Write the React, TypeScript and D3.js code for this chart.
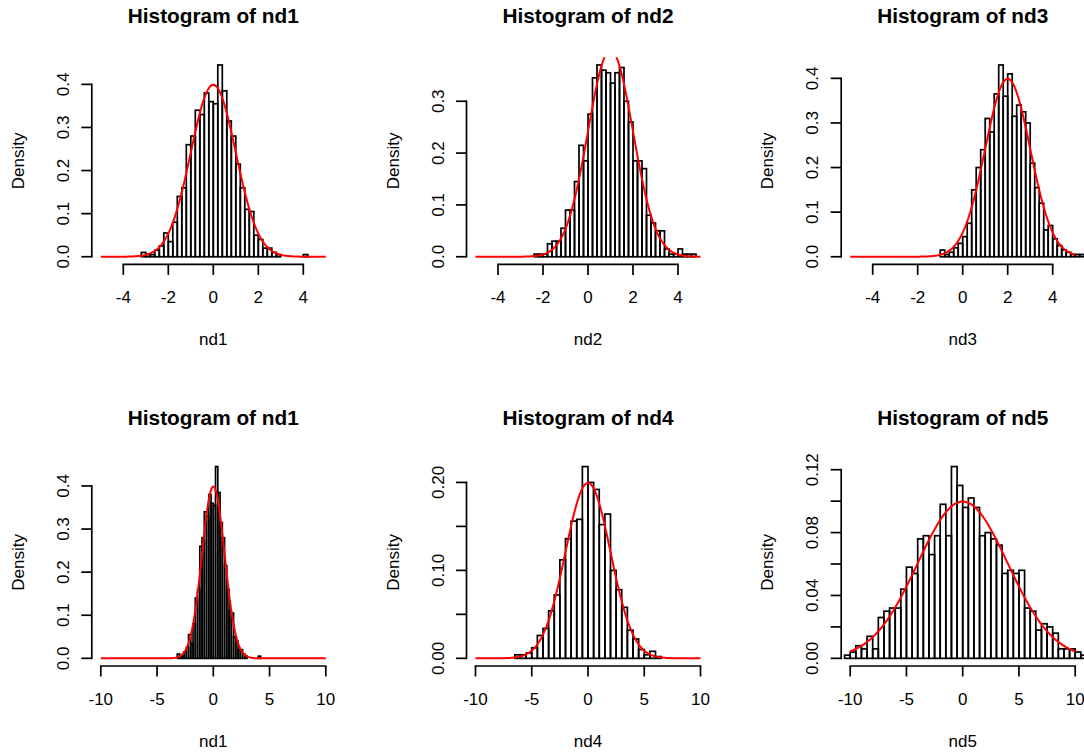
import React from 'react';
import * as d3 from 'd3';

const W = 1084;
const H = 754;

// Histogram densities (bins of equal width, starting at the given left edge)
const nd1Start = -3.2;
const nd1Step = 0.2;
const nd1Density = [
  0.01, 0.005, 0.005, 0.015, 0.025, 0.055, 0.035, 0.08, 0.14, 0.16,
  0.26, 0.28, 0.34, 0.33, 0.38, 0.36, 0.355, 0.445, 0.385, 0.315,
  0.28, 0.215, 0.16, 0.11, 0.105, 0.05, 0.04, 0.02, 0.02, 0.01,
  0.005, 0, 0, 0, 0, 0, 0.005,
];

const nd2Start = -2.4;
const nd2Step = 0.2;
const nd2Density = [
  0.005, 0.005, 0.005, 0.025, 0.03, 0.03, 0.055, 0.09, 0.09, 0.145,
  0.215, 0.185, 0.275, 0.345, 0.37, 0.36, 0.355, 0.335, 0.355, 0.365,
  0.3, 0.26, 0.185, 0.185, 0.17, 0.08, 0.065, 0.05, 0.05, 0.015,
  0.005, 0.005, 0.015, 0.005, 0.005, 0.005,
];

const nd3Start = -1.0;
const nd3Step = 0.2;
const nd3Density = [
  0.015, 0.005, 0.01, 0.02, 0.03, 0.045, 0.075, 0.15, 0.2, 0.24,
  0.31, 0.28, 0.365, 0.43, 0.36, 0.41, 0.315, 0.34, 0.325, 0.3,
  0.21, 0.155, 0.12, 0.06, 0.07, 0.04, 0.025, 0.015, 0.01, 0.005,
  0.005, 0.005,
];

const nd4Start = -6.5;
const nd4Step = 0.5;
const nd4Density = [
  0.004, 0.004, 0.006, 0.012, 0.026, 0.034, 0.054, 0.072, 0.112, 0.136,
  0.156, 0.158, 0.218, 0.2, 0.192, 0.152, 0.164, 0.1, 0.078, 0.058,
  0.032, 0.022, 0.01, 0.004, 0.008, 0.002,
];

const nd5Start = -10.5;
const nd5Step = 0.5;
const nd5Density = [
  0.002, 0.004, 0.008, 0.006, 0.014, 0.006, 0.026, 0.03, 0.032, 0.032,
  0.044, 0.058, 0.054, 0.076, 0.078, 0.066, 0.078, 0.098, 0.078, 0.122,
  0.11, 0.096, 0.102, 0.096, 0.078, 0.08, 0.076, 0.072, 0.054, 0.056,
  0.054, 0.056, 0.032, 0.03, 0.018, 0.022, 0.02, 0.016, 0.006, 0.006,
  0.006, 0.004, 0.002,
];

// Normal density overlays: [mean, sd]
const nd1Normal = [0, 1];
const nd2Normal = [1, 1];
const nd3Normal = [2, 1];
const nd4Normal = [0, 2];
const nd5Normal = [0, 4];

// Axis ticks
const xTicksNarrow = [-4, -2, 0, 2, 4];
const xTicksWide = [-10, -5, 0, 5, 10];
const yTicksTenth4 = [0, 0.1, 0.2, 0.3, 0.4];
const yTicksTenth3 = [0, 0.1, 0.2, 0.3];
const yTicksNd4 = [0, 0.05, 0.1, 0.15, 0.2];
const yLabelsNd4 = ['0.00', '', '0.10', '', '0.20'];
const yTicksNd5 = [0, 0.02, 0.04, 0.06, 0.08, 0.1, 0.12];
const yLabelsNd5 = ['0.00', '', '0.04', '', '0.08', '', '0.12'];

// Layout of the 2 x 3 grid
const colLeft = [91.8, 466.5, 841.2];
const rowTop = [57.3, 458.9];
const plotW = 243;
const plotH = 207.1;

const FONT = "'Liberation Sans', Arial, Helvetica, sans-serif";
const FS = 17;

type Panel = {
  title: string;
  xlab: string;
  start: number;
  step: number;
  dens: number[];
  normal: number[];
  xlim: [number, number];
  xticks: number[];
  yticks: number[];
  ylabels: string[];
  row: number;
  col: number;
};

const fmt1 = (v: number) => v.toFixed(1);

const panels: Panel[] = [
  {
    title: 'Histogram of nd1', xlab: 'nd1', start: nd1Start, step: nd1Step, dens: nd1Density,
    normal: nd1Normal, xlim: [-5, 5], xticks: xTicksNarrow, yticks: yTicksTenth4,
    ylabels: yTicksTenth4.map(fmt1), row: 0, col: 0,
  },
  {
    title: 'Histogram of nd2', xlab: 'nd2', start: nd2Start, step: nd2Step, dens: nd2Density,
    normal: nd2Normal, xlim: [-5, 5], xticks: xTicksNarrow, yticks: yTicksTenth3,
    ylabels: yTicksTenth3.map(fmt1), row: 0, col: 1,
  },
  {
    title: 'Histogram of nd3', xlab: 'nd3', start: nd3Start, step: nd3Step, dens: nd3Density,
    normal: nd3Normal, xlim: [-5, 5], xticks: xTicksNarrow, yticks: yTicksTenth4,
    ylabels: yTicksTenth4.map(fmt1), row: 0, col: 2,
  },
  {
    title: 'Histogram of nd1', xlab: 'nd1', start: nd1Start, step: nd1Step, dens: nd1Density,
    normal: nd1Normal, xlim: [-10, 10], xticks: xTicksWide, yticks: yTicksTenth4,
    ylabels: yTicksTenth4.map(fmt1), row: 1, col: 0,
  },
  {
    title: 'Histogram of nd4', xlab: 'nd4', start: nd4Start, step: nd4Step, dens: nd4Density,
    normal: nd4Normal, xlim: [-10, 10], xticks: xTicksWide, yticks: yTicksNd4,
    ylabels: yLabelsNd4, row: 1, col: 1,
  },
  {
    title: 'Histogram of nd5', xlab: 'nd5', start: nd5Start, step: nd5Step, dens: nd5Density,
    normal: nd5Normal, xlim: [-10, 10], xticks: xTicksWide, yticks: yTicksNd5,
    ylabels: yLabelsNd5, row: 1, col: 2,
  },
];

const dnorm = (x: number, m: number, s: number) =>
  Math.exp(-0.5 * ((x - m) / s) ** 2) / (s * Math.sqrt(2 * Math.PI));

function HistPanel({ p, idx }: { p: Panel; idx: number }) {
  const left = colLeft[p.col];
  const top = rowTop[p.row];
  const right = left + plotW;
  const bottom = top + plotH;

  const xr = p.xlim[1] - p.xlim[0];
  const x = d3.scaleLinear()
    .domain([p.xlim[0] - 0.04 * xr, p.xlim[1] + 0.04 * xr])
    .range([left, right]);
  const ymax = d3.max(p.dens) as number;
  const y = d3.scaleLinear()
    .domain([-0.04 * ymax, 1.04 * ymax])
    .range([bottom, top]);

  const [m, s] = p.normal;
  const n = 201;
  const curvePts = d3.range(n).map((i) => {
    const xv = p.xlim[0] + (xr * i) / (n - 1);
    return [xv, dnorm(xv, m, s)] as [number, number];
  });
  const line = d3.line<[number, number]>()
    .x((d) => x(d[0]))
    .y((d) => y(d[1]));

  const clipId = `plot-clip-${idx}`;
  const cx = (left + right) / 2;
  const cy = (top + bottom) / 2;
  const tickLen = 10.5;
  const lineW = 1.7;
  const yTop = p.yticks[p.yticks.length - 1];

  return (
    <g>
      <defs>
        <clipPath id={clipId}>
          <rect x={left} y={top} width={plotW} height={plotH} />
        </clipPath>
      </defs>

      <g clipPath={`url(#${clipId})`}>
        {p.dens.map((d, i) => {
          const x0 = p.start + i * p.step;
          const x1 = x0 + p.step;
          return (
            <rect
              key={i}
              x={x(x0)}
              y={y(d)}
              width={x(x1) - x(x0)}
              height={y(0) - y(d)}
              fill="none"
              stroke="#000"
              strokeWidth={lineW}
            />
          );
        })}
        <path d={line(curvePts) || ''} fill="none" stroke="#ff0000" strokeWidth={2} />
      </g>

      {/* x axis */}
      <line x1={x(p.xticks[0])} x2={x(p.xticks[p.xticks.length - 1])} y1={bottom} y2={bottom}
        stroke="#000" strokeWidth={lineW} strokeLinecap="square" />
      {p.xticks.map((t) => (
        <g key={`xt${t}`}>
          <line x1={x(t)} x2={x(t)} y1={bottom} y2={bottom + tickLen} stroke="#000" strokeWidth={lineW} />
          <text x={x(t)} y={bottom + 38.6} textAnchor="middle" fontFamily={FONT} fontSize={FS}>
            {t}
          </text>
        </g>
      ))}

      {/* y axis */}
      <line x1={left} x2={left} y1={y(0)} y2={y(yTop)} stroke="#000" strokeWidth={lineW} strokeLinecap="square" />
      {p.yticks.map((t, i) => (
        <g key={`yt${i}`}>
          <line x1={left} x2={left - tickLen} y1={y(t)} y2={y(t)} stroke="#000" strokeWidth={lineW} />
          {p.ylabels[i] && (
            <text transform={`translate(${left - 22.8},${y(t)}) rotate(-90)`} textAnchor="middle"
              fontFamily={FONT} fontSize={FS}>
              {p.ylabels[i]}
            </text>
          )}
        </g>
      ))}

      {/* titles */}
      <text x={cx} y={top - 34} textAnchor="middle" fontFamily={FONT} fontSize={20.8} fontWeight="bold">
        {p.title}
      </text>
      <text x={cx} y={bottom + 80.5} textAnchor="middle" fontFamily={FONT} fontSize={FS}>
        {p.xlab}
      </text>
      <text transform={`translate(${left - 68},${cy}) rotate(-90)`} textAnchor="middle"
        fontFamily={FONT} fontSize={FS}>
        Density
      </text>
    </g>
  );
}

export default function App() {
  return (
    <svg width={W} height={H} style={{ position: 'absolute', left: 0, top: 0, background: '#fff' }}>
      <rect x={0} y={0} width={W} height={H} fill="#fff" />
      {panels.map((p, i) => (
        <HistPanel key={i} p={p} idx={i} />
      ))}
    </svg>
  );
}
